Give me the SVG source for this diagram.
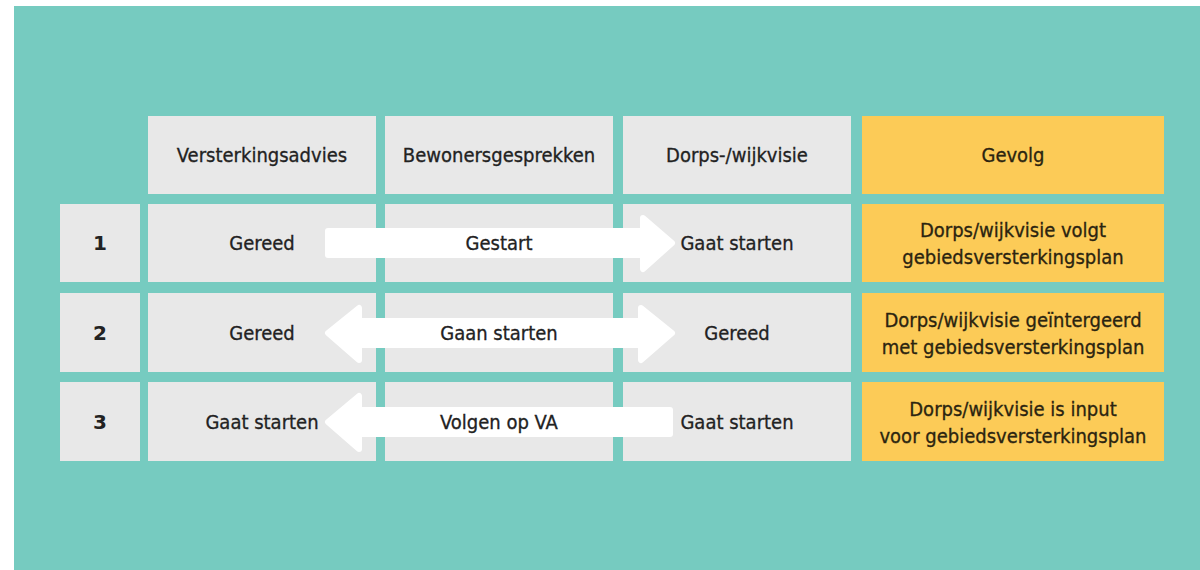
<svg xmlns="http://www.w3.org/2000/svg" width="1200" height="570" viewBox="0 0 1200 570">
<style>
.cell{fill:#e8e8e8}
.gev{fill:#fccb57}
.t{font-family:"DejaVu Sans Condensed","DejaVu Sans",sans-serif;font-size:20px;fill:#222;stroke:#222;stroke-width:0.3;text-anchor:middle;dominant-baseline:central}
.n{font-family:"DejaVu Sans",sans-serif;font-size:20px;font-weight:bold;fill:#222;text-anchor:middle;dominant-baseline:central}
.g{fill:#2b2410;stroke:#2b2410}
.arr{fill:#fff;stroke:#fff;stroke-width:6;stroke-linejoin:round}
</style>
<rect x="0" y="0" width="1200" height="570" fill="#fff"/>
<rect x="14" y="6" width="1186" height="564" fill="#76cbc0"/>

<g id="header">
<rect class="cell" x="148" y="116" width="228" height="78"/>
<text class="t" x="262" y="155">Versterkingsadvies</text>
<rect class="cell" x="385" y="116" width="228" height="78"/>
<text class="t" x="499" y="155">Bewonersgesprekken</text>
<rect class="cell" x="623" y="116" width="228" height="78"/>
<text class="t" x="737" y="155">Dorps-/wijkvisie</text>
<rect class="gev" x="862" y="116" width="302" height="78"/>
<text class="t g" x="1013" y="155">Gevolg</text>
</g>

<g id="row1">
<rect class="cell" x="60" y="204" width="80" height="78"/>
<rect class="cell" x="148" y="204" width="228" height="78"/>
<rect class="cell" x="385" y="204" width="228" height="78"/>
<rect class="cell" x="623" y="204" width="228" height="78"/>
<rect class="gev" x="862" y="204" width="302" height="78"/>
</g>
<g id="row2">
<rect class="cell" x="60" y="293" width="80" height="79"/>
<rect class="cell" x="148" y="293" width="228" height="79"/>
<rect class="cell" x="385" y="293" width="228" height="79"/>
<rect class="cell" x="623" y="293" width="228" height="79"/>
<rect class="gev" x="862" y="293" width="302" height="79"/>
</g>
<g id="row3">
<rect class="cell" x="60" y="382" width="80" height="79"/>
<rect class="cell" x="148" y="382" width="228" height="79"/>
<rect class="cell" x="385" y="382" width="228" height="79"/>
<rect class="cell" x="623" y="382" width="228" height="79"/>
<rect class="gev" x="862" y="382" width="302" height="79"/>
</g>

<g id="connectors">
<path class="arr" d="M328,231 H643 V218 L672,243 L643,269 V255 H328 Z"/>
<path class="arr" d="M328,333 L359,308 V321 H641 V308 L672,333 L641,360 V345 H359 V360 Z"/>
<path class="arr" d="M328,422 L359,396 V410 H670 V434 H359 V449 Z"/>
</g>

<g id="labels">
<text class="n" x="100" y="243">1</text>
<text class="t" x="262" y="243">Gereed</text>
<text class="t" x="499" y="243">Gestart</text>
<text class="t" x="737" y="243">Gaat starten</text>
<text class="t g" x="1013" y="230">Dorps/wijkvisie volgt</text>
<text class="t g" x="1013" y="257">gebiedsversterkingsplan</text>

<text class="n" x="100" y="333">2</text>
<text class="t" x="262" y="333">Gereed</text>
<text class="t" x="499" y="333">Gaan starten</text>
<text class="t" x="737" y="333">Gereed</text>
<text class="t g" x="1013" y="320">Dorps/wijkvisie geïntergeerd</text>
<text class="t g" x="1013" y="347">met gebiedsversterkingsplan</text>

<text class="n" x="100" y="422">3</text>
<text class="t" x="262" y="422">Gaat starten</text>
<text class="t" x="499" y="422">Volgen op VA</text>
<text class="t" x="737" y="422">Gaat starten</text>
<text class="t g" x="1013" y="409">Dorps/wijkvisie is input</text>
<text class="t g" x="1013" y="436">voor gebiedsversterkingsplan</text>
</g>
</svg>
